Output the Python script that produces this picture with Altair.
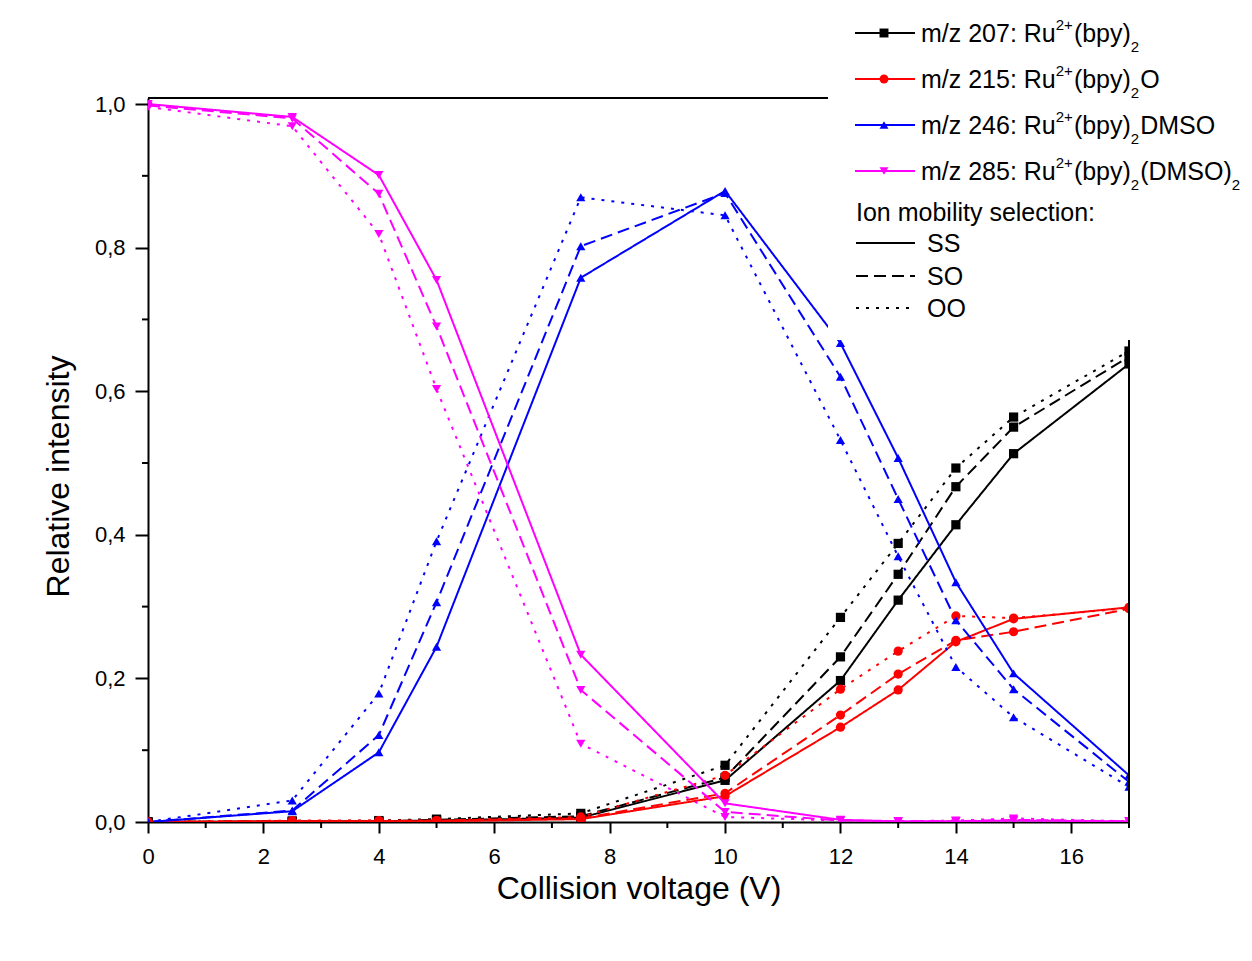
import altair as alt
import pandas as pd

# ---------------- data ----------------
voltage = [0, 2.5, 4, 5, 7.5, 10, 12, 13, 14, 15, 17]

species = ["m/z 207", "m/z 215", "m/z 246", "m/z 285"]
# legend label pieces: (text, kind) with kind base / sup / sub
species_labels = [
    [("m/z 207: Ru", "base"), ("2+", "sup"), ("(bpy)", "base"), ("2", "sub")],
    [("m/z 215: Ru", "base"), ("2+", "sup"), ("(bpy)", "base"), ("2", "sub"), ("O", "base")],
    [("m/z 246: Ru", "base"), ("2+", "sup"), ("(bpy)", "base"), ("2", "sub"), ("DMSO", "base")],
    [("m/z 285: Ru", "base"), ("2+", "sup"), ("(bpy)", "base"), ("2", "sub"),
     ("(DMSO)", "base"), ("2", "sub")],
]
colors = ["#000000", "#FF0000", "#0000FF", "#FF00FF"]
shapes = ["square", "circle", "triangle-up", "triangle-down"]
modes = ["SS", "SO", "OO"]

mz207_SS = [0, 0.001, 0.001, 0.002, 0.006, 0.058, 0.197, 0.309, 0.414, 0.513, 0.638]
mz207_SO = [0, 0.001, 0.001, 0.003, 0.008, 0.062, 0.230, 0.345, 0.467, 0.550, 0.648]
mz207_OO = [0, 0.001, 0.002, 0.004, 0.012, 0.079, 0.285, 0.388, 0.493, 0.564, 0.656]

mz215_SS = [0, 0.001, 0.001, 0.001, 0.004, 0.036, 0.132, 0.184, 0.251, 0.283, 0.299]
mz215_SO = [0, 0.001, 0.001, 0.002, 0.005, 0.040, 0.149, 0.206, 0.253, 0.265, 0.297]
mz215_OO = [0, 0.002, 0.002, 0.002, 0.007, 0.065, 0.185, 0.238, 0.287, 0.284, 0.298]

mz246_SS = [0, 0.015, 0.097, 0.244, 0.758, 0.879, 0.667, 0.507, 0.334, 0.207, 0.065]
mz246_SO = [0, 0.016, 0.121, 0.306, 0.802, 0.876, 0.620, 0.450, 0.281, 0.185, 0.056]
mz246_OO = [0, 0.030, 0.179, 0.391, 0.870, 0.845, 0.532, 0.370, 0.216, 0.146, 0.049]

mz285_SS = [1.000, 0.982, 0.901, 0.755, 0.233, 0.026, 0.003, 0.001, 0.001, 0.002, 0.001]
mz285_SO = [0.998, 0.980, 0.875, 0.690, 0.184, 0.014, 0.002, 0.001, 0.001, 0.003, 0.001]
mz285_OO = [0.996, 0.969, 0.819, 0.603, 0.109, 0.007, 0.002, 0.001, 0.002, 0.005, 0.001]

x_ticks = [0, 2, 4, 6, 8, 10, 12, 14, 16]
x_minor = [1, 3, 5, 7, 9, 11, 13, 15, 17]
y_ticks = [0.0, 0.2, 0.4, 0.6, 0.8, 1.0]
y_minor = [0.1, 0.3, 0.5, 0.7, 0.9]

series = {
    ("m/z 207", "SS"): mz207_SS, ("m/z 207", "SO"): mz207_SO, ("m/z 207", "OO"): mz207_OO,
    ("m/z 215", "SS"): mz215_SS, ("m/z 215", "SO"): mz215_SO, ("m/z 215", "OO"): mz215_OO,
    ("m/z 246", "SS"): mz246_SS, ("m/z 246", "SO"): mz246_SO, ("m/z 246", "OO"): mz246_OO,
    ("m/z 285", "SS"): mz285_SS, ("m/z 285", "SO"): mz285_SO, ("m/z 285", "OO"): mz285_OO,
}
rows = []
for (sp, md), vals in series.items():
    for xv, yv in zip(voltage, vals):
        rows.append({"x": xv, "y": yv, "species": sp, "mode": md})
df = pd.DataFrame(rows)

# ---------------- layout ----------------
W, H = 981, 724
FONT = "Liberation Sans"
dashes = [[1, 0], [12, 6], [3, 7]]

# Arial / Liberation Sans advance widths (per 1000 em) for legend text layout
ARIAL = {" ": 278, "(": 333, ")": 333, "+": 584, "/": 278, ":": 278,
         "D": 722, "M": 833, "O": 778, "R": 722, "S": 667,
         "b": 556, "p": 556, "u": 556, "y": 500, "m": 833, "z": 500}
for d in "0123456789":
    ARIAL[d] = 556


def text_width(s, size):
    return sum(ARIAL.get(c, 556) for c in s) * size / 1000.0


BASE_FS, SMALL_FS = 25, 15

xscale = alt.Scale(domain=[0, 17], nice=False, zero=False)
yscale = alt.Scale(domain=[0, 1.0084], nice=False)
cscale = alt.Scale(domain=species, range=colors)
dscale = alt.Scale(domain=modes, range=dashes)
sscale = alt.Scale(domain=species, range=shapes)

x_axis = alt.Axis(values=x_ticks, format="d", tickSize=11, labelPadding=13, labelFlush=False,
                  title="Collision voltage (V)", titleY=66, titleBaseline="middle",
                  titleFontSize=32, grid=False)
y_axis = alt.Axis(values=y_ticks, format=".1f", labelExpr="replace(datum.label, '.', ',')",
                  tickSize=13, labelPadding=10, labelFlush=False, title="Relative intensity",
                  titleX=-90, titleY=378, titleBaseline="middle", titleFontSize=32,
                  grid=False)

lines = alt.Chart(df).mark_line(strokeWidth=2, clip=True).encode(
    x=alt.X("x:Q", scale=xscale, axis=x_axis),
    y=alt.Y("y:Q", scale=yscale, axis=y_axis),
    color=alt.Color("species:N", scale=cscale, legend=None),
    strokeDash=alt.StrokeDash("mode:N", scale=dscale, legend=None),
    order=alt.Order("x:Q"),
)
points = alt.Chart(df).mark_point(filled=True, opacity=1, size=85, clip=True).encode(
    x=alt.X("x:Q", scale=xscale, axis=x_axis),
    y=alt.Y("y:Q", scale=yscale, axis=y_axis),
    color=alt.Color("species:N", scale=cscale, legend=None),
    shape=alt.Shape("species:N", scale=sscale, legend=None),
)

xminor = alt.Chart(pd.DataFrame({"x": x_minor})).mark_rule(color="black", strokeWidth=2).encode(
    x=alt.X("x:Q", scale=xscale, axis=x_axis), y=alt.value(H), y2=alt.value(H + 6))
yminor = alt.Chart(pd.DataFrame({"y": y_minor})).mark_rule(color="black", strokeWidth=2).encode(
    y=alt.Y("y:Q", scale=yscale, axis=y_axis), x=alt.value(-6), x2=alt.value(0))

# white legend box covering part of the plot
cover = alt.Chart().mark_rect(color="white").encode(
    x=alt.value(680), x2=alt.value(1110), y=alt.value(-98), y2=alt.value(242))
frame_top = alt.Chart().mark_rule(color="black", strokeWidth=2).encode(
    x=alt.value(0), x2=alt.value(680), y=alt.value(0))
frame_right = alt.Chart().mark_rule(color="black", strokeWidth=2).encode(
    x=alt.value(W), y=alt.value(242), y2=alt.value(H))

layers = [lines, points, xminor, yminor, cover, frame_top, frame_right]

# legend (manual, to support super/subscripts)
leg_y = [-65, -19, 27, 73]
for sp, pieces, col, shp, ly in zip(species, species_labels, colors, shapes, leg_y):
    layers.append(alt.Chart().mark_rule(color=col, strokeWidth=2).encode(
        x=alt.value(707), x2=alt.value(767), y=alt.value(ly)))
    layers.append(alt.Chart().mark_point(color=col, filled=True, opacity=1, size=80, shape=shp).encode(
        x=alt.value(736), y=alt.value(ly)))
    cx = 773
    for txt, kind in pieces:
        if kind == "base":
            fs, by = BASE_FS, ly + 9
        elif kind == "sup":
            fs, by = SMALL_FS, ly - 3
        else:
            fs, by = SMALL_FS, ly + 19
        layers.append(alt.Chart().mark_text(text=txt, align="left", baseline="alphabetic", font=FONT,
                                            fontSize=fs, color="black").encode(
            x=alt.value(cx), y=alt.value(by)))
        cx += text_width(txt, fs) + (1 if kind != "base" else 0)

layers.append(alt.Chart().mark_text(text="Ion mobility selection:", align="left", baseline="alphabetic",
                                    font=FONT, fontSize=BASE_FS, color="black").encode(
    x=alt.value(708), y=alt.value(123)))
for md, dsh, ly in zip(modes, dashes, [145, 178, 210]):
    layers.append(alt.Chart().mark_rule(color="black", strokeWidth=2, strokeDash=dsh).encode(
        x=alt.value(708), x2=alt.value(767), y=alt.value(ly)))
    layers.append(alt.Chart().mark_text(text=md, align="left", baseline="alphabetic", font=FONT,
                                        fontSize=BASE_FS, color="black").encode(
        x=alt.value(779), y=alt.value(ly + 9)))

chart = alt.layer(*layers).properties(
    width=W, height=H,
    autosize=alt.AutoSizeParams(type="none"),
    padding={"left": 140, "top": 90, "right": 114, "bottom": 120},
).configure_view(strokeWidth=0).configure_axis(
    labelFont=FONT, titleFont=FONT, labelFontSize=22, titleFontSize=32,
    titleFontWeight="normal", labelColor="black", titleColor="black",
    domainColor="black", domainWidth=2, tickColor="black", tickWidth=2,
)

chart.save("out.html", embed_options={"renderer": "svg", "actions": False})
